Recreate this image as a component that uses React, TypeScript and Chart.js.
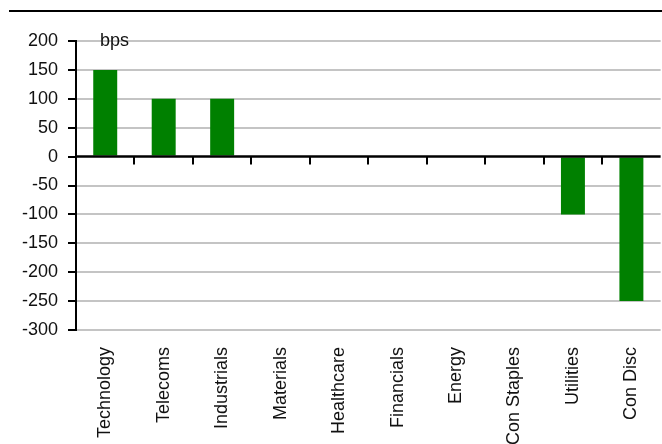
import React, { useEffect, useRef } from "react";
import { Chart, registerables } from "chart.js";

Chart.register(...registerables);

// Sector positioning, in basis points
const categories = [
  "Technology",
  "Telecoms",
  "Industrials",
  "Materials",
  "Healthcare",
  "Financials",
  "Energy",
  "Con Staples",
  "Utilities",
  "Con Disc",
];
const values = [150, 100, 100, 0, 0, 0, 0, 0, -100, -250];
const yMin = -300;
const yMax = 200;
const yStep = 50;
const unitLabel = "bps";

const FONT = "'Liberation Sans', Arial, sans-serif";
const TEXT = "#111";

// Black zero line with boundary ticks, the unit label and the rule at the top
const decorations = {
  id: "decorations",
  afterDatasetsDraw(chart: any) {
    const { ctx, chartArea, scales } = chart;
    const y0 = scales.y.getPixelForValue(0);
    const x = scales.x;
    ctx.save();
    ctx.strokeStyle = "#000";
    ctx.lineWidth = 2.5;
    ctx.beginPath();
    ctx.moveTo(chartArea.left, y0);
    ctx.lineTo(chartArea.right, y0);
    ctx.stroke();
    ctx.lineWidth = 2;
    const n = categories.length;
    for (let i = 1; i < n; i++) {
      const bx = Math.round((x.getPixelForValue(i - 1) + x.getPixelForValue(i)) / 2);
      ctx.beginPath();
      ctx.moveTo(bx, y0);
      ctx.lineTo(bx, y0 + 8);
      ctx.stroke();
    }
    ctx.restore();
  },
  afterDraw(chart: any) {
    const { ctx, scales } = chart;
    ctx.save();
    ctx.fillStyle = "#000";
    ctx.fillRect(9, 10, chart.width - 9, 2);
    ctx.fillStyle = TEXT;
    ctx.font = `18px ${FONT}`;
    ctx.textBaseline = "alphabetic";
    ctx.textAlign = "left";
    ctx.fillText(unitLabel, 100, scales.y.getPixelForValue(yMax) + 5);
    ctx.restore();
  },
};

export default function App() {
  const ref = useRef<HTMLCanvasElement | null>(null);

  useEffect(() => {
    if (!ref.current) return;
    const chart = new Chart(ref.current, {
      type: "bar",
      data: {
        labels: categories,
        datasets: [
          {
            data: values,
            backgroundColor: "#008000",
            borderWidth: 0,
            barPercentage: 0.41,
            categoryPercentage: 1,
          },
        ],
      },
      options: {
        responsive: false,
        animation: false,
        layout: { padding: { top: 41, left: 0, right: 0, bottom: 0 } },
        plugins: {
          legend: { display: false },
          tooltip: { enabled: false },
        },
        scales: {
          x: {
            grid: { display: false },
            border: { display: false },
            ticks: {
              autoSkip: false,
              minRotation: 90,
              maxRotation: 90,
              padding: 9,
              color: TEXT,
              font: { family: FONT, size: 18 },
            },
            afterFit(scale: any) {
              scale.height = 114;
            },
          },
          y: {
            min: yMin,
            max: yMax,
            grid: {
              color: (c: any) => (c.tick && c.tick.value === 0 ? "rgba(0,0,0,0)" : "#c4c4c4"),
              lineWidth: 2,
              tickColor: "#000",
              tickLength: 8,
              tickWidth: 2,
            },
            border: { display: true, color: "#000", width: 2 },
            ticks: {
              stepSize: yStep,
              padding: 10,
              color: TEXT,
              font: { family: FONT, size: 18 },
            },
            afterFit(scale: any) {
              scale.width = 76;
            },
          },
        },
      },
      plugins: [decorations],
    });
    return () => chart.destroy();
  }, []);

  return (
    <canvas
      ref={ref}
      width={662}
      height={444}
      style={{ position: "absolute", left: 0, top: 0, display: "block" }}
    />
  );
}
